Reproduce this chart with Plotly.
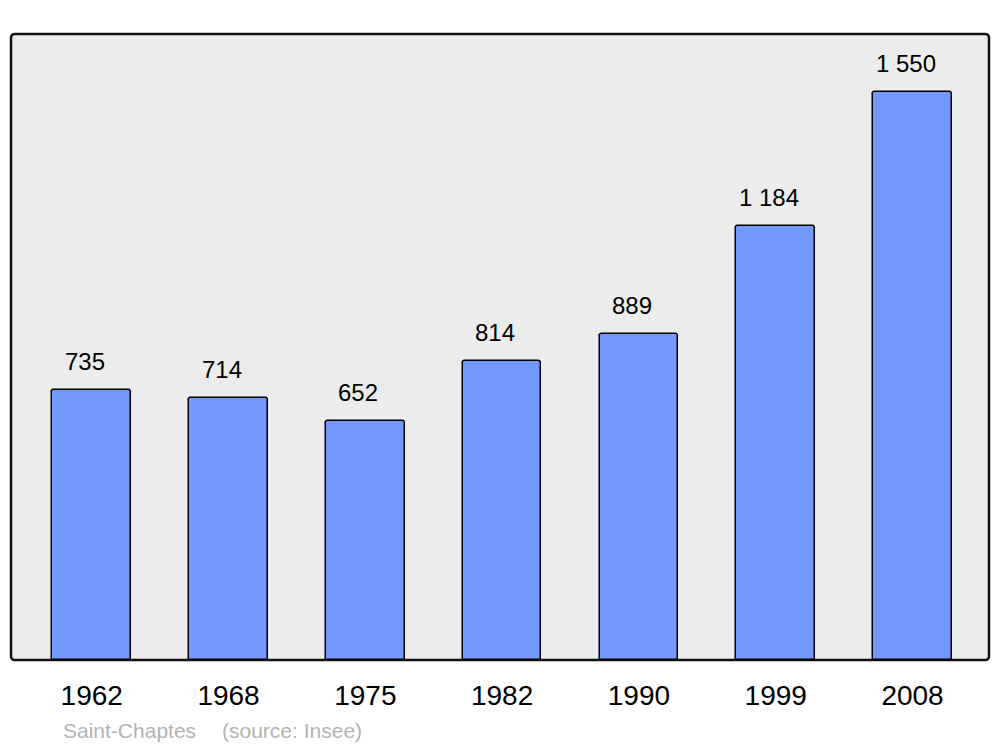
import plotly.graph_objects as go

years = ["1962", "1968", "1975", "1982", "1990", "1999", "2008"]
population = [735, 714, 652, 814, 889, 1184, 1550]
commune = "Saint-Chaptes"
source = "(source: Insee)"

labels = [f"{v:,}".replace(",", " ") for v in population]
FONT = "Liberation Sans, Arial, sans-serif"

fig = go.Figure()
fig.add_trace(go.Bar(
    x=list(range(len(years))), y=population,
    width=0.575,
    marker=dict(color="#7399ff", line=dict(color="#000000", width=1.5), cornerradius=3),
    hoverinfo="skip",
))

annotations = []
for i, (v, t) in enumerate(zip(population, labels)):
    annotations.append(dict(x=i, y=v, xref="x", yref="y", text=t, showarrow=False,
                            yanchor="bottom", yshift=13, xshift=-7,
                            font=dict(family=FONT, size=24, color="#000000")))
annotations.append(dict(x=(61 - 11) / 978, y=(660 - 730) / 626, xref="paper", yref="paper",
                        text=commune, showarrow=False, xanchor="left", yanchor="middle",
                        font=dict(family=FONT, size=21, color="#b3b3b3")))
annotations.append(dict(x=(220 - 11) / 978, y=(660 - 730) / 626, xref="paper", yref="paper",
                        text=source, showarrow=False, xanchor="left", yanchor="middle",
                        font=dict(family=FONT, size=21, color="#b3b3b3")))

# rounded frame in paper coordinates
rx, ry = 4 / 978, 4 / 626
frame = (f"M {rx},0 L {1-rx},0 Q 1,0 1,{ry} L 1,{1-ry} Q 1,1 {1-rx},1 "
         f"L {rx},1 Q 0,1 0,{1-ry} L 0,{ry} Q 0,0 {rx},0 Z")

fig.update_layout(
    width=992, height=739,
    margin=dict(l=3, r=11, t=26, b=87),
    paper_bgcolor="#ffffff",
    plot_bgcolor="rgba(0,0,0,0)",
    showlegend=False,
    bargap=0,
    annotations=annotations,
    shapes=[dict(type="path", xref="paper", yref="paper", path=frame,
                 line=dict(color="#111111", width=2.5), fillcolor="#ececec", layer="below")],
    xaxis=dict(range=[-0.59, 6.559], tickmode="array", tickvals=list(range(len(years))),
               ticktext=years, showgrid=False, zeroline=False, showline=False,
               ticks="", ticklabelstandoff=16,
               tickfont=dict(family=FONT, size=28, color="#000000")),
    yaxis=dict(range=[0, 1707], showgrid=False, zeroline=False, showline=False,
               showticklabels=False, ticks=""),
)

fig.write_html("out.html")
